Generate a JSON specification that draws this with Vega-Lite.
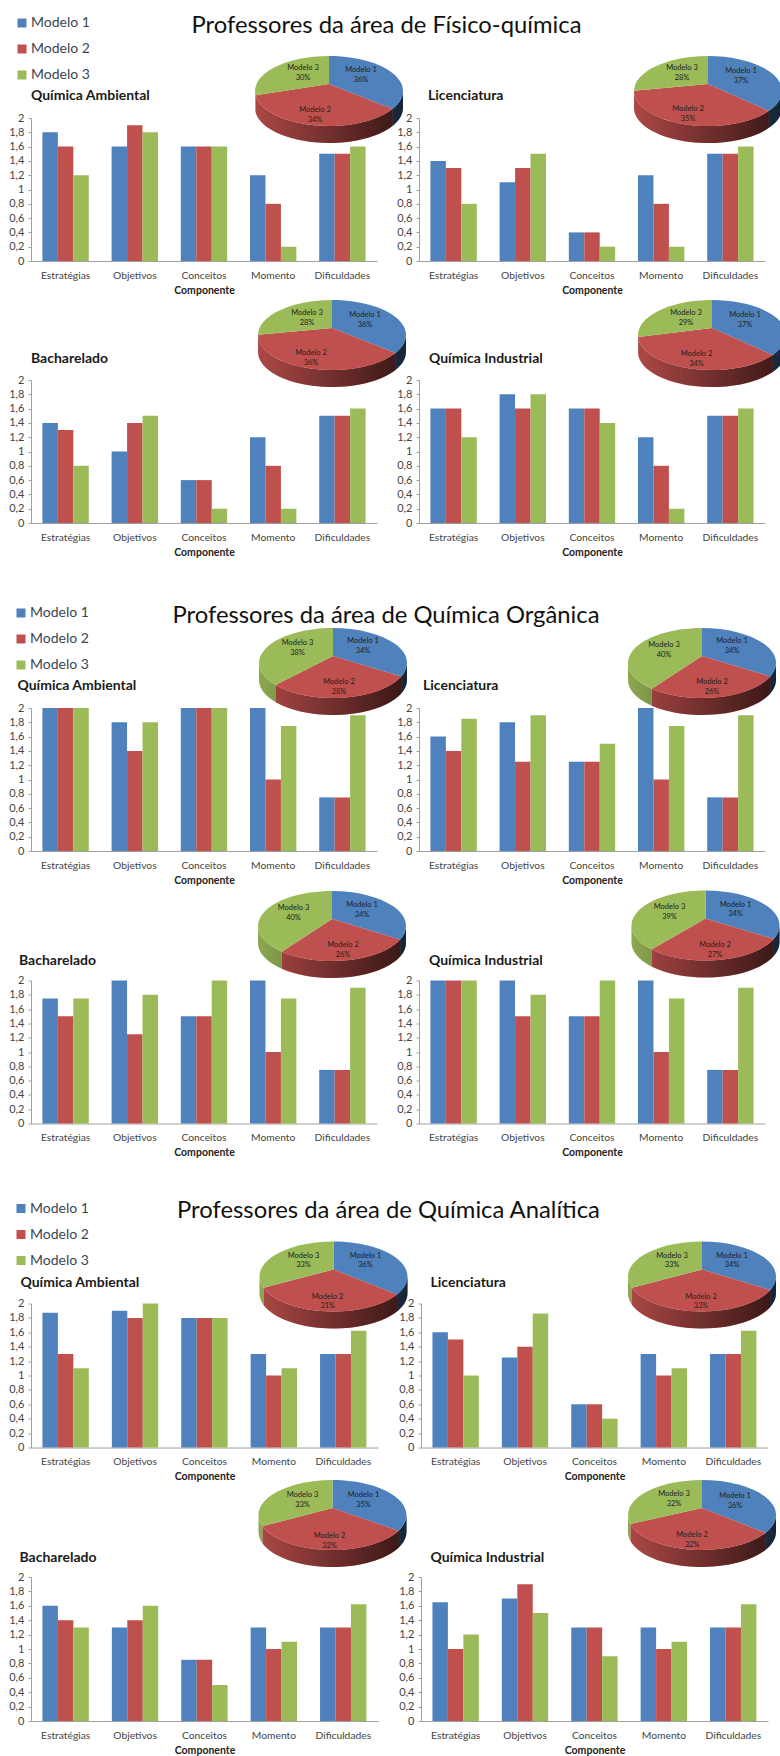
{"$schema":"https://vega.github.io/schema/vega-lite/v6.json","background":"white","padding":{"left":8,"top":14,"right":0,"bottom":0},
"config":{"view":{"stroke":null},"font":"Lato","range":{"category":["#4f81bd","#c0504d","#9bbb59"]},"scale":{"bandWithNestedOffsetPaddingInner":0.33,"bandWithNestedOffsetPaddingOuter":0.165},
"axis":{"grid":false,"domainColor":"#a0a0a0","tickColor":"#a0a0a0","labelColor":"#444444","labelFont":"Lato","titleFont":"Lato","titleColor":"#222222"},
"axisX":{"labelAngle":0,"ticks":false,"labelFontSize":10.3,"labelPadding":9,"titleFontSize":10.5,"titleFontWeight":"bold","titlePadding":5},"axisY":{"tickSize":3,"labelFontSize":11,"labelPadding":4},
"text":{"fontSize":7.5,"lineBreak":"\n","baseline":"bottom","align":"center","color":"#222222","font":"Lato"}},
"spacing":1185.5,"bounds":"flush","vconcat":[
{"spacing":590,"bounds":"flush","vconcat":[
{"spacing":262,"bounds":"flush","vconcat":[
{"spacing":42,"bounds":"flush","resolve":{"scale":{"color":"independent"}},"hconcat":[
{"width":346,"height":143,"resolve":{"scale":{"shape":"independent"}},"layer":[
{"data":{"values":[{"componente":"Estratégias","modelo":"Modelo 1","valor":1.8},{"componente":"Estratégias","modelo":"Modelo 2","valor":1.6},{"componente":"Estratégias","modelo":"Modelo 3","valor":1.2},{"componente":"Objetivos","modelo":"Modelo 1","valor":1.6},{"componente":"Objetivos","modelo":"Modelo 2","valor":1.9},{"componente":"Objetivos","modelo":"Modelo 3","valor":1.8},{"componente":"Conceitos","modelo":"Modelo 1","valor":1.6},{"componente":"Conceitos","modelo":"Modelo 2","valor":1.6},{"componente":"Conceitos","modelo":"Modelo 3","valor":1.6},{"componente":"Momento","modelo":"Modelo 1","valor":1.2},{"componente":"Momento","modelo":"Modelo 2","valor":0.8},{"componente":"Momento","modelo":"Modelo 3","valor":0.2},{"componente":"Dificuldades","modelo":"Modelo 1","valor":1.5},{"componente":"Dificuldades","modelo":"Modelo 2","valor":1.5},{"componente":"Dificuldades","modelo":"Modelo 3","valor":1.6}]},"mark":"bar","encoding":{"x":{"field":"componente","type":"nominal","sort":null,"title":"Componente"},"xOffset":{"field":"modelo"},"y":{"field":"valor","type":"quantitative","title":null,"scale":{"domain":[0,2]},"axis":{"tickCount":10,"labelExpr":"replace(format(datum.value,'~g'),'.',',')"}},"color":{"field":"modelo","type":"nominal","legend":{"orient":"none","legendX":-16,"legendY":-102,"title":null,"symbolType":"square","symbolSize":81,"labelFontSize":14,"labelColor":"#3b4656","rowPadding":12,"labelOffset":2,"symbolStrokeWidth":0}}}},
{"data":{"values":[{"modelo":"Modelo 1","pct":36},{"modelo":"Modelo 2","pct":34},{"modelo":"Modelo 3","pct":30}]},"mark":{"type":"point","filled":true,"opacity":1,"size":4,"strokeWidth":0,"xOffset":125,"yOffset":-98.5},"encoding":{"color":{"field":"modelo","type":"nominal","legend":null},"shape":{"field":"modelo","type":"nominal","legend":null,"scale":{"range":["M63.6,17.9A74,35 0 0 0 74,0L74,17A74,35 0 0 1 63.6,34.9Z","M-73.4,4.3A74,35 0 0 0 63.6,17.9L63.6,34.9A74,35 0 0 1 -73.4,21.3Z","M-74,0A74,35 0 0 0 -73.4,4.3L-73.4,21.3A74,35 0 0 1 -74,17Z"]}}}},
{"data":{"values":[{"parte":"lateral"}]},"mark":{"type":"point","filled":true,"opacity":1,"size":4,"strokeWidth":0,"xOffset":125,"yOffset":-98.5,"shape":"M-74,0A74,35 0 0 0 74,0L74,17A74,35 0 0 1 -74,17Z","fill":{"gradient":"linear","x1":0,"y1":0,"x2":1,"y2":0,"stops":[{"offset":0,"color":"rgba(0,0,0,0.1)"},{"offset":1,"color":"rgba(0,0,0,0.72)"}]}},"encoding":{}},
{"data":{"values":[{"modelo":"Modelo 1","pct":36},{"modelo":"Modelo 2","pct":34},{"modelo":"Modelo 3","pct":30}]},"mark":{"type":"point","filled":true,"opacity":1,"size":4,"strokeWidth":0,"xOffset":125,"yOffset":-98.5},"encoding":{"color":{"field":"modelo","type":"nominal","legend":null},"shape":{"field":"modelo","type":"nominal","legend":null,"scale":{"range":["M0,-7L0,-35A74,35 0 0 1 63.6,17.9Z","M0,-7L63.6,17.9A74,35 0 0 1 -73.4,4.3Z","M0,-7L-73.4,4.3A74,35 0 0 1 0,-35Z"]}}}},
{"data":{"values":[{"r":"Modelo 1\n36%"}]},"mark":{"type":"text","xOffset":157,"yOffset":-115.5},"encoding":{"text":{"field":"r"}}},
{"data":{"values":[{"r":"Modelo 2\n34%"}]},"mark":{"type":"text","xOffset":111,"yOffset":-75.5},"encoding":{"text":{"field":"r"}}},
{"data":{"values":[{"r":"Modelo 3\n30%"}]},"mark":{"type":"text","xOffset":99,"yOffset":-117.5},"encoding":{"text":{"field":"r"}}},
{"data":{"values":[{"t":"Química Ambiental"}]},"mark":{"type":"text","fontSize":14,"fontWeight":"bold","align":"left","baseline":"alphabetic","color":"#1a1a1a","xOffset":-173,"yOffset":-89.5},"encoding":{"text":{"field":"t"}}},
{"data":{"values":[{"t":"Professores da área de Físico-química"}]},"mark":{"type":"text","fontSize":23.8,"baseline":"alphabetic","color":"#111111","xOffset":182.5,"yOffset":-156.5},"encoding":{"text":{"field":"t"}}}
]},
{"width":346,"height":143,"resolve":{"scale":{"shape":"independent"}},"layer":[
{"data":{"values":[{"componente":"Estratégias","modelo":"Modelo 1","valor":1.4},{"componente":"Estratégias","modelo":"Modelo 2","valor":1.3},{"componente":"Estratégias","modelo":"Modelo 3","valor":0.8},{"componente":"Objetivos","modelo":"Modelo 1","valor":1.1},{"componente":"Objetivos","modelo":"Modelo 2","valor":1.3},{"componente":"Objetivos","modelo":"Modelo 3","valor":1.5},{"componente":"Conceitos","modelo":"Modelo 1","valor":0.4},{"componente":"Conceitos","modelo":"Modelo 2","valor":0.4},{"componente":"Conceitos","modelo":"Modelo 3","valor":0.2},{"componente":"Momento","modelo":"Modelo 1","valor":1.2},{"componente":"Momento","modelo":"Modelo 2","valor":0.8},{"componente":"Momento","modelo":"Modelo 3","valor":0.2},{"componente":"Dificuldades","modelo":"Modelo 1","valor":1.5},{"componente":"Dificuldades","modelo":"Modelo 2","valor":1.5},{"componente":"Dificuldades","modelo":"Modelo 3","valor":1.6}]},"mark":"bar","encoding":{"x":{"field":"componente","type":"nominal","sort":null,"title":"Componente"},"xOffset":{"field":"modelo"},"y":{"field":"valor","type":"quantitative","title":null,"scale":{"domain":[0,2]},"axis":{"tickCount":10,"labelExpr":"replace(format(datum.value,'~g'),'.',',')"}},"color":{"field":"modelo","type":"nominal","legend":null}}},
{"data":{"values":[{"modelo":"Modelo 1","pct":37},{"modelo":"Modelo 2","pct":35},{"modelo":"Modelo 3","pct":28}]},"mark":{"type":"point","filled":true,"opacity":1,"size":4,"strokeWidth":0,"xOffset":116,"yOffset":-98.5},"encoding":{"color":{"field":"modelo","type":"nominal","legend":null},"shape":{"field":"modelo","type":"nominal","legend":null,"scale":{"range":["M60.8,20A74,35 0 0 0 74,0L74,17A74,35 0 0 1 60.8,37Z","M-74,0A74,35 0 0 0 60.8,20L60.8,37A74,35 0 0 1 -74,17Z","M-74,0L-74,17Z"]}}}},
{"data":{"values":[{"parte":"lateral"}]},"mark":{"type":"point","filled":true,"opacity":1,"size":4,"strokeWidth":0,"xOffset":116,"yOffset":-98.5,"shape":"M-74,0A74,35 0 0 0 74,0L74,17A74,35 0 0 1 -74,17Z","fill":{"gradient":"linear","x1":0,"y1":0,"x2":1,"y2":0,"stops":[{"offset":0,"color":"rgba(0,0,0,0.1)"},{"offset":1,"color":"rgba(0,0,0,0.72)"}]}},"encoding":{}},
{"data":{"values":[{"modelo":"Modelo 1","pct":37},{"modelo":"Modelo 2","pct":35},{"modelo":"Modelo 3","pct":28}]},"mark":{"type":"point","filled":true,"opacity":1,"size":4,"strokeWidth":0,"xOffset":116,"yOffset":-98.5},"encoding":{"color":{"field":"modelo","type":"nominal","legend":null},"shape":{"field":"modelo","type":"nominal","legend":null,"scale":{"range":["M0,-7L0,-35A74,35 0 0 1 60.8,20Z","M0,-7L60.8,20A74,35 0 0 1 -74,-0.3Z","M0,-7L-74,-0.3A74,35 0 0 1 0,-35Z"]}}}},
{"data":{"values":[{"r":"Modelo 1\n37%"}]},"mark":{"type":"text","xOffset":149,"yOffset":-114.5},"encoding":{"text":{"field":"r"}}},
{"data":{"values":[{"r":"Modelo 2\n35%"}]},"mark":{"type":"text","xOffset":96,"yOffset":-76.5},"encoding":{"text":{"field":"r"}}},
{"data":{"values":[{"r":"Modelo 3\n28%"}]},"mark":{"type":"text","xOffset":90,"yOffset":-117.5},"encoding":{"text":{"field":"r"}}},
{"data":{"values":[{"t":"Licenciatura"}]},"mark":{"type":"text","fontSize":14,"fontWeight":"bold","align":"left","baseline":"alphabetic","color":"#1a1a1a","xOffset":-164,"yOffset":-89.5},"encoding":{"text":{"field":"t"}}}
]}
]},
{"spacing":42,"bounds":"flush","resolve":{"scale":{"color":"independent"}},"hconcat":[
{"width":346,"height":143,"resolve":{"scale":{"shape":"independent"}},"layer":[
{"data":{"values":[{"componente":"Estratégias","modelo":"Modelo 1","valor":1.4},{"componente":"Estratégias","modelo":"Modelo 2","valor":1.3},{"componente":"Estratégias","modelo":"Modelo 3","valor":0.8},{"componente":"Objetivos","modelo":"Modelo 1","valor":1},{"componente":"Objetivos","modelo":"Modelo 2","valor":1.4},{"componente":"Objetivos","modelo":"Modelo 3","valor":1.5},{"componente":"Conceitos","modelo":"Modelo 1","valor":0.6},{"componente":"Conceitos","modelo":"Modelo 2","valor":0.6},{"componente":"Conceitos","modelo":"Modelo 3","valor":0.2},{"componente":"Momento","modelo":"Modelo 1","valor":1.2},{"componente":"Momento","modelo":"Modelo 2","valor":0.8},{"componente":"Momento","modelo":"Modelo 3","valor":0.2},{"componente":"Dificuldades","modelo":"Modelo 1","valor":1.5},{"componente":"Dificuldades","modelo":"Modelo 2","valor":1.5},{"componente":"Dificuldades","modelo":"Modelo 3","valor":1.6}]},"mark":"bar","encoding":{"x":{"field":"componente","type":"nominal","sort":null,"title":"Componente"},"xOffset":{"field":"modelo"},"y":{"field":"valor","type":"quantitative","title":null,"scale":{"domain":[0,2]},"axis":{"tickCount":10,"labelExpr":"replace(format(datum.value,'~g'),'.',',')"}},"color":{"field":"modelo","type":"nominal","legend":null}}},
{"data":{"values":[{"modelo":"Modelo 1","pct":36},{"modelo":"Modelo 2","pct":36},{"modelo":"Modelo 3","pct":28}]},"mark":{"type":"point","filled":true,"opacity":1,"size":4,"strokeWidth":0,"xOffset":128,"yOffset":-116.5},"encoding":{"color":{"field":"modelo","type":"nominal","legend":null},"shape":{"field":"modelo","type":"nominal","legend":null,"scale":{"range":["M63.6,17.9A74,35 0 0 0 74,0L74,17A74,35 0 0 1 63.6,34.9Z","M-74,0A74,35 0 0 0 63.6,17.9L63.6,34.9A74,35 0 0 1 -74,17Z","M-74,0L-74,17Z"]}}}},
{"data":{"values":[{"parte":"lateral"}]},"mark":{"type":"point","filled":true,"opacity":1,"size":4,"strokeWidth":0,"xOffset":128,"yOffset":-116.5,"shape":"M-74,0A74,35 0 0 0 74,0L74,17A74,35 0 0 1 -74,17Z","fill":{"gradient":"linear","x1":0,"y1":0,"x2":1,"y2":0,"stops":[{"offset":0,"color":"rgba(0,0,0,0.1)"},{"offset":1,"color":"rgba(0,0,0,0.72)"}]}},"encoding":{}},
{"data":{"values":[{"modelo":"Modelo 1","pct":36},{"modelo":"Modelo 2","pct":36},{"modelo":"Modelo 3","pct":28}]},"mark":{"type":"point","filled":true,"opacity":1,"size":4,"strokeWidth":0,"xOffset":128,"yOffset":-116.5},"encoding":{"color":{"field":"modelo","type":"nominal","legend":null},"shape":{"field":"modelo","type":"nominal","legend":null,"scale":{"range":["M0,-7L0,-35A74,35 0 0 1 63.6,17.9Z","M0,-7L63.6,17.9A74,35 0 0 1 -74,-0.3Z","M0,-7L-74,-0.3A74,35 0 0 1 0,-35Z"]}}}},
{"data":{"values":[{"r":"Modelo 1\n36%"}]},"mark":{"type":"text","xOffset":161,"yOffset":-132.5},"encoding":{"text":{"field":"r"}}},
{"data":{"values":[{"r":"Modelo 2\n36%"}]},"mark":{"type":"text","xOffset":107,"yOffset":-94.5},"encoding":{"text":{"field":"r"}}},
{"data":{"values":[{"r":"Modelo 3\n28%"}]},"mark":{"type":"text","xOffset":103,"yOffset":-134.5},"encoding":{"text":{"field":"r"}}},
{"data":{"values":[{"t":"Bacharelado"}]},"mark":{"type":"text","fontSize":14,"fontWeight":"bold","align":"left","baseline":"alphabetic","color":"#1a1a1a","xOffset":-173,"yOffset":-88.5},"encoding":{"text":{"field":"t"}}}
]},
{"width":346,"height":143,"resolve":{"scale":{"shape":"independent"}},"layer":[
{"data":{"values":[{"componente":"Estratégias","modelo":"Modelo 1","valor":1.6},{"componente":"Estratégias","modelo":"Modelo 2","valor":1.6},{"componente":"Estratégias","modelo":"Modelo 3","valor":1.2},{"componente":"Objetivos","modelo":"Modelo 1","valor":1.8},{"componente":"Objetivos","modelo":"Modelo 2","valor":1.6},{"componente":"Objetivos","modelo":"Modelo 3","valor":1.8},{"componente":"Conceitos","modelo":"Modelo 1","valor":1.6},{"componente":"Conceitos","modelo":"Modelo 2","valor":1.6},{"componente":"Conceitos","modelo":"Modelo 3","valor":1.4},{"componente":"Momento","modelo":"Modelo 1","valor":1.2},{"componente":"Momento","modelo":"Modelo 2","valor":0.8},{"componente":"Momento","modelo":"Modelo 3","valor":0.2},{"componente":"Dificuldades","modelo":"Modelo 1","valor":1.5},{"componente":"Dificuldades","modelo":"Modelo 2","valor":1.5},{"componente":"Dificuldades","modelo":"Modelo 3","valor":1.6}]},"mark":"bar","encoding":{"x":{"field":"componente","type":"nominal","sort":null,"title":"Componente"},"xOffset":{"field":"modelo"},"y":{"field":"valor","type":"quantitative","title":null,"scale":{"domain":[0,2]},"axis":{"tickCount":10,"labelExpr":"replace(format(datum.value,'~g'),'.',',')"}},"color":{"field":"modelo","type":"nominal","legend":null}}},
{"data":{"values":[{"modelo":"Modelo 1","pct":37},{"modelo":"Modelo 2","pct":34},{"modelo":"Modelo 3","pct":29}]},"mark":{"type":"point","filled":true,"opacity":1,"size":4,"strokeWidth":0,"xOffset":120,"yOffset":-116.5},"encoding":{"color":{"field":"modelo","type":"nominal","legend":null},"shape":{"field":"modelo","type":"nominal","legend":null,"scale":{"range":["M60.8,20A74,35 0 0 0 74,0L74,17A74,35 0 0 1 60.8,37Z","M-73.9,2A74,35 0 0 0 60.8,20L60.8,37A74,35 0 0 1 -73.9,19Z","M-74,0A74,35 0 0 0 -73.9,2L-73.9,19A74,35 0 0 1 -74,17Z"]}}}},
{"data":{"values":[{"parte":"lateral"}]},"mark":{"type":"point","filled":true,"opacity":1,"size":4,"strokeWidth":0,"xOffset":120,"yOffset":-116.5,"shape":"M-74,0A74,35 0 0 0 74,0L74,17A74,35 0 0 1 -74,17Z","fill":{"gradient":"linear","x1":0,"y1":0,"x2":1,"y2":0,"stops":[{"offset":0,"color":"rgba(0,0,0,0.1)"},{"offset":1,"color":"rgba(0,0,0,0.72)"}]}},"encoding":{}},
{"data":{"values":[{"modelo":"Modelo 1","pct":37},{"modelo":"Modelo 2","pct":34},{"modelo":"Modelo 3","pct":29}]},"mark":{"type":"point","filled":true,"opacity":1,"size":4,"strokeWidth":0,"xOffset":120,"yOffset":-116.5},"encoding":{"color":{"field":"modelo","type":"nominal","legend":null},"shape":{"field":"modelo","type":"nominal","legend":null,"scale":{"range":["M0,-7L0,-35A74,35 0 0 1 60.8,20Z","M0,-7L60.8,20A74,35 0 0 1 -73.9,2Z","M0,-7L-73.9,2A74,35 0 0 1 0,-35Z"]}}}},
{"data":{"values":[{"r":"Modelo 1\n37%"}]},"mark":{"type":"text","xOffset":153,"yOffset":-132.5},"encoding":{"text":{"field":"r"}}},
{"data":{"values":[{"r":"Modelo 2\n34%"}]},"mark":{"type":"text","xOffset":104.5,"yOffset":-93.5},"encoding":{"text":{"field":"r"}}},
{"data":{"values":[{"r":"Modelo 3\n29%"}]},"mark":{"type":"text","xOffset":94,"yOffset":-134.5},"encoding":{"text":{"field":"r"}}},
{"data":{"values":[{"t":"Química Industrial"}]},"mark":{"type":"text","fontSize":14,"fontWeight":"bold","align":"left","baseline":"alphabetic","color":"#1a1a1a","xOffset":-163,"yOffset":-88.5},"encoding":{"text":{"field":"t"}}}
]}
]}
]},
{"spacing":272.5,"bounds":"flush","vconcat":[
{"spacing":42,"bounds":"flush","resolve":{"scale":{"color":"independent"}},"hconcat":[
{"width":346,"height":143,"resolve":{"scale":{"shape":"independent"}},"layer":[
{"data":{"values":[{"componente":"Estratégias","modelo":"Modelo 1","valor":2},{"componente":"Estratégias","modelo":"Modelo 2","valor":2},{"componente":"Estratégias","modelo":"Modelo 3","valor":2},{"componente":"Objetivos","modelo":"Modelo 1","valor":1.8},{"componente":"Objetivos","modelo":"Modelo 2","valor":1.4},{"componente":"Objetivos","modelo":"Modelo 3","valor":1.8},{"componente":"Conceitos","modelo":"Modelo 1","valor":2},{"componente":"Conceitos","modelo":"Modelo 2","valor":2},{"componente":"Conceitos","modelo":"Modelo 3","valor":2},{"componente":"Momento","modelo":"Modelo 1","valor":2},{"componente":"Momento","modelo":"Modelo 2","valor":1},{"componente":"Momento","modelo":"Modelo 3","valor":1.75},{"componente":"Dificuldades","modelo":"Modelo 1","valor":0.75},{"componente":"Dificuldades","modelo":"Modelo 2","valor":0.75},{"componente":"Dificuldades","modelo":"Modelo 3","valor":1.9}]},"mark":"bar","encoding":{"x":{"field":"componente","type":"nominal","sort":null,"title":"Componente"},"xOffset":{"field":"modelo"},"y":{"field":"valor","type":"quantitative","title":null,"scale":{"domain":[0,2]},"axis":{"tickCount":10,"labelExpr":"replace(format(datum.value,'~g'),'.',',')"}},"color":{"field":"modelo","type":"nominal","legend":{"orient":"none","legendX":-17,"legendY":-102,"title":null,"symbolType":"square","symbolSize":81,"labelFontSize":14,"labelColor":"#3b4656","rowPadding":12,"labelOffset":2,"symbolStrokeWidth":0}}}},
{"data":{"values":[{"modelo":"Modelo 1","pct":34},{"modelo":"Modelo 2","pct":28},{"modelo":"Modelo 3","pct":38}]},"mark":{"type":"point","filled":true,"opacity":1,"size":4,"strokeWidth":0,"xOffset":129,"yOffset":-116.5},"encoding":{"color":{"field":"modelo","type":"nominal","legend":null},"shape":{"field":"modelo","type":"nominal","legend":null,"scale":{"range":["M68.3,13.5A74,35 0 0 0 74,0L74,17A74,35 0 0 1 68.3,30.5Z","M-57.6,22A74,35 0 0 0 68.3,13.5L68.3,30.5A74,35 0 0 1 -57.6,39Z","M-74,0A74,35 0 0 0 -57.6,22L-57.6,39A74,35 0 0 1 -74,17Z"]}}}},
{"data":{"values":[{"parte":"lateral"}]},"mark":{"type":"point","filled":true,"opacity":1,"size":4,"strokeWidth":0,"xOffset":129,"yOffset":-116.5,"shape":"M-74,0A74,35 0 0 0 74,0L74,17A74,35 0 0 1 -74,17Z","fill":{"gradient":"linear","x1":0,"y1":0,"x2":1,"y2":0,"stops":[{"offset":0,"color":"rgba(0,0,0,0.1)"},{"offset":1,"color":"rgba(0,0,0,0.72)"}]}},"encoding":{}},
{"data":{"values":[{"modelo":"Modelo 1","pct":34},{"modelo":"Modelo 2","pct":28},{"modelo":"Modelo 3","pct":38}]},"mark":{"type":"point","filled":true,"opacity":1,"size":4,"strokeWidth":0,"xOffset":129,"yOffset":-116.5},"encoding":{"color":{"field":"modelo","type":"nominal","legend":null},"shape":{"field":"modelo","type":"nominal","legend":null,"scale":{"range":["M0,-7L0,-35A74,35 0 0 1 68.3,13.5Z","M0,-7L68.3,13.5A74,35 0 0 1 -57.6,22Z","M0,-7L-57.6,22A74,35 0 0 1 0,-35Z"]}}}},
{"data":{"values":[{"r":"Modelo 1\n34%"}]},"mark":{"type":"text","xOffset":159,"yOffset":-134.5},"encoding":{"text":{"field":"r"}}},
{"data":{"values":[{"r":"Modelo 2\n28%"}]},"mark":{"type":"text","xOffset":135,"yOffset":-93.5},"encoding":{"text":{"field":"r"}}},
{"data":{"values":[{"r":"Modelo 3\n38%"}]},"mark":{"type":"text","xOffset":93.5,"yOffset":-132.5},"encoding":{"text":{"field":"r"}}},
{"data":{"values":[{"t":"Química Ambiental"}]},"mark":{"type":"text","fontSize":14,"fontWeight":"bold","align":"left","baseline":"alphabetic","color":"#1a1a1a","xOffset":-186.5,"yOffset":-89.5},"encoding":{"text":{"field":"t"}}},
{"data":{"values":[{"t":"Professores da área de Química Orgânica"}]},"mark":{"type":"text","fontSize":23.8,"baseline":"alphabetic","color":"#111111","xOffset":182,"yOffset":-156.5},"encoding":{"text":{"field":"t"}}}
]},
{"width":346,"height":143,"resolve":{"scale":{"shape":"independent"}},"layer":[
{"data":{"values":[{"componente":"Estratégias","modelo":"Modelo 1","valor":1.6},{"componente":"Estratégias","modelo":"Modelo 2","valor":1.4},{"componente":"Estratégias","modelo":"Modelo 3","valor":1.85},{"componente":"Objetivos","modelo":"Modelo 1","valor":1.8},{"componente":"Objetivos","modelo":"Modelo 2","valor":1.25},{"componente":"Objetivos","modelo":"Modelo 3","valor":1.9},{"componente":"Conceitos","modelo":"Modelo 1","valor":1.25},{"componente":"Conceitos","modelo":"Modelo 2","valor":1.25},{"componente":"Conceitos","modelo":"Modelo 3","valor":1.5},{"componente":"Momento","modelo":"Modelo 1","valor":2},{"componente":"Momento","modelo":"Modelo 2","valor":1},{"componente":"Momento","modelo":"Modelo 3","valor":1.75},{"componente":"Dificuldades","modelo":"Modelo 1","valor":0.75},{"componente":"Dificuldades","modelo":"Modelo 2","valor":0.75},{"componente":"Dificuldades","modelo":"Modelo 3","valor":1.9}]},"mark":"bar","encoding":{"x":{"field":"componente","type":"nominal","sort":null,"title":"Componente"},"xOffset":{"field":"modelo"},"y":{"field":"valor","type":"quantitative","title":null,"scale":{"domain":[0,2]},"axis":{"tickCount":10,"labelExpr":"replace(format(datum.value,'~g'),'.',',')"}},"color":{"field":"modelo","type":"nominal","legend":null}}},
{"data":{"values":[{"modelo":"Modelo 1","pct":34},{"modelo":"Modelo 2","pct":26},{"modelo":"Modelo 3","pct":40}]},"mark":{"type":"point","filled":true,"opacity":1,"size":4,"strokeWidth":0,"xOffset":110,"yOffset":-116.5},"encoding":{"color":{"field":"modelo","type":"nominal","legend":null},"shape":{"field":"modelo","type":"nominal","legend":null,"scale":{"range":["M68.3,13.5A74,35 0 0 0 74,0L74,17A74,35 0 0 1 68.3,30.5Z","M-50.2,25.7A74,35 0 0 0 68.3,13.5L68.3,30.5A74,35 0 0 1 -50.2,42.7Z","M-74,0A74,35 0 0 0 -50.2,25.7L-50.2,42.7A74,35 0 0 1 -74,17Z"]}}}},
{"data":{"values":[{"parte":"lateral"}]},"mark":{"type":"point","filled":true,"opacity":1,"size":4,"strokeWidth":0,"xOffset":110,"yOffset":-116.5,"shape":"M-74,0A74,35 0 0 0 74,0L74,17A74,35 0 0 1 -74,17Z","fill":{"gradient":"linear","x1":0,"y1":0,"x2":1,"y2":0,"stops":[{"offset":0,"color":"rgba(0,0,0,0.1)"},{"offset":1,"color":"rgba(0,0,0,0.72)"}]}},"encoding":{}},
{"data":{"values":[{"modelo":"Modelo 1","pct":34},{"modelo":"Modelo 2","pct":26},{"modelo":"Modelo 3","pct":40}]},"mark":{"type":"point","filled":true,"opacity":1,"size":4,"strokeWidth":0,"xOffset":110,"yOffset":-116.5},"encoding":{"color":{"field":"modelo","type":"nominal","legend":null},"shape":{"field":"modelo","type":"nominal","legend":null,"scale":{"range":["M0,-7L0,-35A74,35 0 0 1 68.3,13.5Z","M0,-7L68.3,13.5A74,35 0 0 1 -50.2,25.7Z","M0,-7L-50.2,25.7A74,35 0 0 1 0,-35Z"]}}}},
{"data":{"values":[{"r":"Modelo 1\n34%"}]},"mark":{"type":"text","xOffset":140,"yOffset":-134.5},"encoding":{"text":{"field":"r"}}},
{"data":{"values":[{"r":"Modelo 2\n26%"}]},"mark":{"type":"text","xOffset":120,"yOffset":-93.5},"encoding":{"text":{"field":"r"}}},
{"data":{"values":[{"r":"Modelo 3\n40%"}]},"mark":{"type":"text","xOffset":72,"yOffset":-130.5},"encoding":{"text":{"field":"r"}}},
{"data":{"values":[{"t":"Licenciatura"}]},"mark":{"type":"text","fontSize":14,"fontWeight":"bold","align":"left","baseline":"alphabetic","color":"#1a1a1a","xOffset":-169,"yOffset":-89.5},"encoding":{"text":{"field":"t"}}}
]}
]},
{"spacing":42,"bounds":"flush","resolve":{"scale":{"color":"independent"}},"hconcat":[
{"width":346,"height":143,"resolve":{"scale":{"shape":"independent"}},"layer":[
{"data":{"values":[{"componente":"Estratégias","modelo":"Modelo 1","valor":1.75},{"componente":"Estratégias","modelo":"Modelo 2","valor":1.5},{"componente":"Estratégias","modelo":"Modelo 3","valor":1.75},{"componente":"Objetivos","modelo":"Modelo 1","valor":2},{"componente":"Objetivos","modelo":"Modelo 2","valor":1.25},{"componente":"Objetivos","modelo":"Modelo 3","valor":1.8},{"componente":"Conceitos","modelo":"Modelo 1","valor":1.5},{"componente":"Conceitos","modelo":"Modelo 2","valor":1.5},{"componente":"Conceitos","modelo":"Modelo 3","valor":2},{"componente":"Momento","modelo":"Modelo 1","valor":2},{"componente":"Momento","modelo":"Modelo 2","valor":1},{"componente":"Momento","modelo":"Modelo 3","valor":1.75},{"componente":"Dificuldades","modelo":"Modelo 1","valor":0.75},{"componente":"Dificuldades","modelo":"Modelo 2","valor":0.75},{"componente":"Dificuldades","modelo":"Modelo 3","valor":1.9}]},"mark":"bar","encoding":{"x":{"field":"componente","type":"nominal","sort":null,"title":"Componente"},"xOffset":{"field":"modelo"},"y":{"field":"valor","type":"quantitative","title":null,"scale":{"domain":[0,2]},"axis":{"tickCount":10,"labelExpr":"replace(format(datum.value,'~g'),'.',',')"}},"color":{"field":"modelo","type":"nominal","legend":null}}},
{"data":{"values":[{"modelo":"Modelo 1","pct":34},{"modelo":"Modelo 2","pct":26},{"modelo":"Modelo 3","pct":40}]},"mark":{"type":"point","filled":true,"opacity":1,"size":4,"strokeWidth":0,"xOffset":128,"yOffset":-126},"encoding":{"color":{"field":"modelo","type":"nominal","legend":null},"shape":{"field":"modelo","type":"nominal","legend":null,"scale":{"range":["M68.3,13.5A74,35 0 0 0 74,0L74,17A74,35 0 0 1 68.3,30.5Z","M-50.2,25.7A74,35 0 0 0 68.3,13.5L68.3,30.5A74,35 0 0 1 -50.2,42.7Z","M-74,0A74,35 0 0 0 -50.2,25.7L-50.2,42.7A74,35 0 0 1 -74,17Z"]}}}},
{"data":{"values":[{"parte":"lateral"}]},"mark":{"type":"point","filled":true,"opacity":1,"size":4,"strokeWidth":0,"xOffset":128,"yOffset":-126,"shape":"M-74,0A74,35 0 0 0 74,0L74,17A74,35 0 0 1 -74,17Z","fill":{"gradient":"linear","x1":0,"y1":0,"x2":1,"y2":0,"stops":[{"offset":0,"color":"rgba(0,0,0,0.1)"},{"offset":1,"color":"rgba(0,0,0,0.72)"}]}},"encoding":{}},
{"data":{"values":[{"modelo":"Modelo 1","pct":34},{"modelo":"Modelo 2","pct":26},{"modelo":"Modelo 3","pct":40}]},"mark":{"type":"point","filled":true,"opacity":1,"size":4,"strokeWidth":0,"xOffset":128,"yOffset":-126},"encoding":{"color":{"field":"modelo","type":"nominal","legend":null},"shape":{"field":"modelo","type":"nominal","legend":null,"scale":{"range":["M0,-7L0,-35A74,35 0 0 1 68.3,13.5Z","M0,-7L68.3,13.5A74,35 0 0 1 -50.2,25.7Z","M0,-7L-50.2,25.7A74,35 0 0 1 0,-35Z"]}}}},
{"data":{"values":[{"r":"Modelo 1\n34%"}]},"mark":{"type":"text","xOffset":158,"yOffset":-143},"encoding":{"text":{"field":"r"}}},
{"data":{"values":[{"r":"Modelo 2\n26%"}]},"mark":{"type":"text","xOffset":139,"yOffset":-103},"encoding":{"text":{"field":"r"}}},
{"data":{"values":[{"r":"Modelo 3\n40%"}]},"mark":{"type":"text","xOffset":89.5,"yOffset":-140},"encoding":{"text":{"field":"r"}}},
{"data":{"values":[{"t":"Bacharelado"}]},"mark":{"type":"text","fontSize":14,"fontWeight":"bold","align":"left","baseline":"alphabetic","color":"#1a1a1a","xOffset":-185,"yOffset":-87},"encoding":{"text":{"field":"t"}}}
]},
{"width":346,"height":143,"resolve":{"scale":{"shape":"independent"}},"layer":[
{"data":{"values":[{"componente":"Estratégias","modelo":"Modelo 1","valor":2},{"componente":"Estratégias","modelo":"Modelo 2","valor":2},{"componente":"Estratégias","modelo":"Modelo 3","valor":2},{"componente":"Objetivos","modelo":"Modelo 1","valor":2},{"componente":"Objetivos","modelo":"Modelo 2","valor":1.5},{"componente":"Objetivos","modelo":"Modelo 3","valor":1.8},{"componente":"Conceitos","modelo":"Modelo 1","valor":1.5},{"componente":"Conceitos","modelo":"Modelo 2","valor":1.5},{"componente":"Conceitos","modelo":"Modelo 3","valor":2},{"componente":"Momento","modelo":"Modelo 1","valor":2},{"componente":"Momento","modelo":"Modelo 2","valor":1},{"componente":"Momento","modelo":"Modelo 3","valor":1.75},{"componente":"Dificuldades","modelo":"Modelo 1","valor":0.75},{"componente":"Dificuldades","modelo":"Modelo 2","valor":0.75},{"componente":"Dificuldades","modelo":"Modelo 3","valor":1.9}]},"mark":"bar","encoding":{"x":{"field":"componente","type":"nominal","sort":null,"title":"Componente"},"xOffset":{"field":"modelo"},"y":{"field":"valor","type":"quantitative","title":null,"scale":{"domain":[0,2]},"axis":{"tickCount":10,"labelExpr":"replace(format(datum.value,'~g'),'.',',')"}},"color":{"field":"modelo","type":"nominal","legend":null}}},
{"data":{"values":[{"modelo":"Modelo 1","pct":34},{"modelo":"Modelo 2","pct":27},{"modelo":"Modelo 3","pct":39}]},"mark":{"type":"point","filled":true,"opacity":1,"size":4,"strokeWidth":0,"xOffset":113.5,"yOffset":-126.5},"encoding":{"color":{"field":"modelo","type":"nominal","legend":null},"shape":{"field":"modelo","type":"nominal","legend":null,"scale":{"range":["M68.3,13.5A74,35 0 0 0 74,0L74,17A74,35 0 0 1 68.3,30.5Z","M-54,23.9A74,35 0 0 0 68.3,13.5L68.3,30.5A74,35 0 0 1 -54,40.9Z","M-74,0A74,35 0 0 0 -54,23.9L-54,40.9A74,35 0 0 1 -74,17Z"]}}}},
{"data":{"values":[{"parte":"lateral"}]},"mark":{"type":"point","filled":true,"opacity":1,"size":4,"strokeWidth":0,"xOffset":113.5,"yOffset":-126.5,"shape":"M-74,0A74,35 0 0 0 74,0L74,17A74,35 0 0 1 -74,17Z","fill":{"gradient":"linear","x1":0,"y1":0,"x2":1,"y2":0,"stops":[{"offset":0,"color":"rgba(0,0,0,0.1)"},{"offset":1,"color":"rgba(0,0,0,0.72)"}]}},"encoding":{}},
{"data":{"values":[{"modelo":"Modelo 1","pct":34},{"modelo":"Modelo 2","pct":27},{"modelo":"Modelo 3","pct":39}]},"mark":{"type":"point","filled":true,"opacity":1,"size":4,"strokeWidth":0,"xOffset":113.5,"yOffset":-126.5},"encoding":{"color":{"field":"modelo","type":"nominal","legend":null},"shape":{"field":"modelo","type":"nominal","legend":null,"scale":{"range":["M0,-7L0,-35A74,35 0 0 1 68.3,13.5Z","M0,-7L68.3,13.5A74,35 0 0 1 -54,23.9Z","M0,-7L-54,23.9A74,35 0 0 1 0,-35Z"]}}}},
{"data":{"values":[{"r":"Modelo 1\n34%"}]},"mark":{"type":"text","xOffset":143.5,"yOffset":-143.5},"encoding":{"text":{"field":"r"}}},
{"data":{"values":[{"r":"Modelo 2\n27%"}]},"mark":{"type":"text","xOffset":123,"yOffset":-103},"encoding":{"text":{"field":"r"}}},
{"data":{"values":[{"r":"Modelo 3\n39%"}]},"mark":{"type":"text","xOffset":77.5,"yOffset":-141},"encoding":{"text":{"field":"r"}}},
{"data":{"values":[{"t":"Química Industrial"}]},"mark":{"type":"text","fontSize":14,"fontWeight":"bold","align":"left","baseline":"alphabetic","color":"#1a1a1a","xOffset":-163,"yOffset":-87},"encoding":{"text":{"field":"t"}}}
]}
]}
]}
]},
{"spacing":273.5,"bounds":"flush","vconcat":[
{"spacing":43,"bounds":"flush","resolve":{"scale":{"color":"independent"}},"hconcat":[
{"width":347,"height":144,"resolve":{"scale":{"shape":"independent"}},"layer":[
{"data":{"values":[{"componente":"Estratégias","modelo":"Modelo 1","valor":1.87},{"componente":"Estratégias","modelo":"Modelo 2","valor":1.3},{"componente":"Estratégias","modelo":"Modelo 3","valor":1.1},{"componente":"Objetivos","modelo":"Modelo 1","valor":1.9},{"componente":"Objetivos","modelo":"Modelo 2","valor":1.8},{"componente":"Objetivos","modelo":"Modelo 3","valor":2},{"componente":"Conceitos","modelo":"Modelo 1","valor":1.8},{"componente":"Conceitos","modelo":"Modelo 2","valor":1.8},{"componente":"Conceitos","modelo":"Modelo 3","valor":1.8},{"componente":"Momento","modelo":"Modelo 1","valor":1.3},{"componente":"Momento","modelo":"Modelo 2","valor":1},{"componente":"Momento","modelo":"Modelo 3","valor":1.1},{"componente":"Dificuldades","modelo":"Modelo 1","valor":1.3},{"componente":"Dificuldades","modelo":"Modelo 2","valor":1.3},{"componente":"Dificuldades","modelo":"Modelo 3","valor":1.62}]},"mark":"bar","encoding":{"x":{"field":"componente","type":"nominal","sort":null,"title":"Componente"},"xOffset":{"field":"modelo"},"y":{"field":"valor","type":"quantitative","title":null,"scale":{"domain":[0,2]},"axis":{"tickCount":10,"labelExpr":"replace(format(datum.value,'~g'),'.',',')"}},"color":{"field":"modelo","type":"nominal","legend":{"orient":"none","legendX":-17,"legendY":-102,"title":null,"symbolType":"square","symbolSize":81,"labelFontSize":14,"labelColor":"#3b4656","rowPadding":12,"labelOffset":2,"symbolStrokeWidth":0}}}},
{"data":{"values":[{"modelo":"Modelo 1","pct":36},{"modelo":"Modelo 2","pct":31},{"modelo":"Modelo 3","pct":33}]},"mark":{"type":"point","filled":true,"opacity":1,"size":4,"strokeWidth":0,"xOffset":129,"yOffset":-99},"encoding":{"color":{"field":"modelo","type":"nominal","legend":null},"shape":{"field":"modelo","type":"nominal","legend":null,"scale":{"range":["M63.6,17.9A74,35 0 0 0 74,0L74,17A74,35 0 0 1 63.6,34.9Z","M-70.1,11.2A74,35 0 0 0 63.6,17.9L63.6,34.9A74,35 0 0 1 -70.1,28.2Z","M-74,0A74,35 0 0 0 -70.1,11.2L-70.1,28.2A74,35 0 0 1 -74,17Z"]}}}},
{"data":{"values":[{"parte":"lateral"}]},"mark":{"type":"point","filled":true,"opacity":1,"size":4,"strokeWidth":0,"xOffset":129,"yOffset":-99,"shape":"M-74,0A74,35 0 0 0 74,0L74,17A74,35 0 0 1 -74,17Z","fill":{"gradient":"linear","x1":0,"y1":0,"x2":1,"y2":0,"stops":[{"offset":0,"color":"rgba(0,0,0,0.1)"},{"offset":1,"color":"rgba(0,0,0,0.72)"}]}},"encoding":{}},
{"data":{"values":[{"modelo":"Modelo 1","pct":36},{"modelo":"Modelo 2","pct":31},{"modelo":"Modelo 3","pct":33}]},"mark":{"type":"point","filled":true,"opacity":1,"size":4,"strokeWidth":0,"xOffset":129,"yOffset":-99},"encoding":{"color":{"field":"modelo","type":"nominal","legend":null},"shape":{"field":"modelo","type":"nominal","legend":null,"scale":{"range":["M0,-7L0,-35A74,35 0 0 1 63.6,17.9Z","M0,-7L63.6,17.9A74,35 0 0 1 -70.1,11.2Z","M0,-7L-70.1,11.2A74,35 0 0 1 0,-35Z"]}}}},
{"data":{"values":[{"r":"Modelo 1\n36%"}]},"mark":{"type":"text","xOffset":161,"yOffset":-116},"encoding":{"text":{"field":"r"}}},
{"data":{"values":[{"r":"Modelo 2\n31%"}]},"mark":{"type":"text","xOffset":123,"yOffset":-75},"encoding":{"text":{"field":"r"}}},
{"data":{"values":[{"r":"Modelo 3\n33%"}]},"mark":{"type":"text","xOffset":99,"yOffset":-116},"encoding":{"text":{"field":"r"}}},
{"data":{"values":[{"t":"Química Ambiental"}]},"mark":{"type":"text","fontSize":14,"fontWeight":"bold","align":"left","baseline":"alphabetic","color":"#1a1a1a","xOffset":-184,"yOffset":-88.5},"encoding":{"text":{"field":"t"}}},
{"data":{"values":[{"t":"Professores da área de Química Analítica"}]},"mark":{"type":"text","fontSize":23.8,"baseline":"alphabetic","color":"#111111","xOffset":184,"yOffset":-157.5},"encoding":{"text":{"field":"t"}}}
]},
{"width":347,"height":144,"resolve":{"scale":{"shape":"independent"}},"layer":[
{"data":{"values":[{"componente":"Estratégias","modelo":"Modelo 1","valor":1.6},{"componente":"Estratégias","modelo":"Modelo 2","valor":1.5},{"componente":"Estratégias","modelo":"Modelo 3","valor":1},{"componente":"Objetivos","modelo":"Modelo 1","valor":1.25},{"componente":"Objetivos","modelo":"Modelo 2","valor":1.4},{"componente":"Objetivos","modelo":"Modelo 3","valor":1.86},{"componente":"Conceitos","modelo":"Modelo 1","valor":0.6},{"componente":"Conceitos","modelo":"Modelo 2","valor":0.6},{"componente":"Conceitos","modelo":"Modelo 3","valor":0.4},{"componente":"Momento","modelo":"Modelo 1","valor":1.3},{"componente":"Momento","modelo":"Modelo 2","valor":1},{"componente":"Momento","modelo":"Modelo 3","valor":1.1},{"componente":"Dificuldades","modelo":"Modelo 1","valor":1.3},{"componente":"Dificuldades","modelo":"Modelo 2","valor":1.3},{"componente":"Dificuldades","modelo":"Modelo 3","valor":1.62}]},"mark":"bar","encoding":{"x":{"field":"componente","type":"nominal","sort":null,"title":"Componente"},"xOffset":{"field":"modelo"},"y":{"field":"valor","type":"quantitative","title":null,"scale":{"domain":[0,2]},"axis":{"tickCount":10,"labelExpr":"replace(format(datum.value,'~g'),'.',',')"}},"color":{"field":"modelo","type":"nominal","legend":null}}},
{"data":{"values":[{"modelo":"Modelo 1","pct":34},{"modelo":"Modelo 2","pct":33},{"modelo":"Modelo 3","pct":33}]},"mark":{"type":"point","filled":true,"opacity":1,"size":4,"strokeWidth":0,"xOffset":107.5,"yOffset":-99},"encoding":{"color":{"field":"modelo","type":"nominal","legend":null},"shape":{"field":"modelo","type":"nominal","legend":null,"scale":{"range":["M68.3,13.5A74,35 0 0 0 74,0L74,17A74,35 0 0 1 68.3,30.5Z","M-70.1,11.2A74,35 0 0 0 68.3,13.5L68.3,30.5A74,35 0 0 1 -70.1,28.2Z","M-74,0A74,35 0 0 0 -70.1,11.2L-70.1,28.2A74,35 0 0 1 -74,17Z"]}}}},
{"data":{"values":[{"parte":"lateral"}]},"mark":{"type":"point","filled":true,"opacity":1,"size":4,"strokeWidth":0,"xOffset":107.5,"yOffset":-99,"shape":"M-74,0A74,35 0 0 0 74,0L74,17A74,35 0 0 1 -74,17Z","fill":{"gradient":"linear","x1":0,"y1":0,"x2":1,"y2":0,"stops":[{"offset":0,"color":"rgba(0,0,0,0.1)"},{"offset":1,"color":"rgba(0,0,0,0.72)"}]}},"encoding":{}},
{"data":{"values":[{"modelo":"Modelo 1","pct":34},{"modelo":"Modelo 2","pct":33},{"modelo":"Modelo 3","pct":33}]},"mark":{"type":"point","filled":true,"opacity":1,"size":4,"strokeWidth":0,"xOffset":107.5,"yOffset":-99},"encoding":{"color":{"field":"modelo","type":"nominal","legend":null},"shape":{"field":"modelo","type":"nominal","legend":null,"scale":{"range":["M0,-7L0,-35A74,35 0 0 1 68.3,13.5Z","M0,-7L68.3,13.5A74,35 0 0 1 -70.1,11.2Z","M0,-7L-70.1,11.2A74,35 0 0 1 0,-35Z"]}}}},
{"data":{"values":[{"r":"Modelo 1\n34%"}]},"mark":{"type":"text","xOffset":137.5,"yOffset":-116},"encoding":{"text":{"field":"r"}}},
{"data":{"values":[{"r":"Modelo 2\n33%"}]},"mark":{"type":"text","xOffset":106.5,"yOffset":-75},"encoding":{"text":{"field":"r"}}},
{"data":{"values":[{"r":"Modelo 3\n33%"}]},"mark":{"type":"text","xOffset":77.5,"yOffset":-116},"encoding":{"text":{"field":"r"}}},
{"data":{"values":[{"t":"Licenciatura"}]},"mark":{"type":"text","fontSize":14,"fontWeight":"bold","align":"left","baseline":"alphabetic","color":"#1a1a1a","xOffset":-164,"yOffset":-88.5},"encoding":{"text":{"field":"t"}}}
]}
]},
{"spacing":43,"bounds":"flush","resolve":{"scale":{"color":"independent"}},"hconcat":[
{"width":347,"height":144,"resolve":{"scale":{"shape":"independent"}},"layer":[
{"data":{"values":[{"componente":"Estratégias","modelo":"Modelo 1","valor":1.6},{"componente":"Estratégias","modelo":"Modelo 2","valor":1.4},{"componente":"Estratégias","modelo":"Modelo 3","valor":1.3},{"componente":"Objetivos","modelo":"Modelo 1","valor":1.3},{"componente":"Objetivos","modelo":"Modelo 2","valor":1.4},{"componente":"Objetivos","modelo":"Modelo 3","valor":1.6},{"componente":"Conceitos","modelo":"Modelo 1","valor":0.85},{"componente":"Conceitos","modelo":"Modelo 2","valor":0.85},{"componente":"Conceitos","modelo":"Modelo 3","valor":0.5},{"componente":"Momento","modelo":"Modelo 1","valor":1.3},{"componente":"Momento","modelo":"Modelo 2","valor":1},{"componente":"Momento","modelo":"Modelo 3","valor":1.1},{"componente":"Dificuldades","modelo":"Modelo 1","valor":1.3},{"componente":"Dificuldades","modelo":"Modelo 2","valor":1.3},{"componente":"Dificuldades","modelo":"Modelo 3","valor":1.62}]},"mark":"bar","encoding":{"x":{"field":"componente","type":"nominal","sort":null,"title":"Componente"},"xOffset":{"field":"modelo"},"y":{"field":"valor","type":"quantitative","title":null,"scale":{"domain":[0,2]},"axis":{"tickCount":10,"labelExpr":"replace(format(datum.value,'~g'),'.',',')"}},"color":{"field":"modelo","type":"nominal","legend":null}}},
{"data":{"values":[{"modelo":"Modelo 1","pct":35},{"modelo":"Modelo 2","pct":32},{"modelo":"Modelo 3","pct":33}]},"mark":{"type":"point","filled":true,"opacity":1,"size":4,"strokeWidth":0,"xOffset":128,"yOffset":-134},"encoding":{"color":{"field":"modelo","type":"nominal","legend":null},"shape":{"field":"modelo","type":"nominal","legend":null,"scale":{"range":["M66.1,15.7A74,35 0 0 0 74,0L74,17A74,35 0 0 1 66.1,32.7Z","M-70.1,11.2A74,35 0 0 0 66.1,15.7L66.1,32.7A74,35 0 0 1 -70.1,28.2Z","M-74,0A74,35 0 0 0 -70.1,11.2L-70.1,28.2A74,35 0 0 1 -74,17Z"]}}}},
{"data":{"values":[{"parte":"lateral"}]},"mark":{"type":"point","filled":true,"opacity":1,"size":4,"strokeWidth":0,"xOffset":128,"yOffset":-134,"shape":"M-74,0A74,35 0 0 0 74,0L74,17A74,35 0 0 1 -74,17Z","fill":{"gradient":"linear","x1":0,"y1":0,"x2":1,"y2":0,"stops":[{"offset":0,"color":"rgba(0,0,0,0.1)"},{"offset":1,"color":"rgba(0,0,0,0.72)"}]}},"encoding":{}},
{"data":{"values":[{"modelo":"Modelo 1","pct":35},{"modelo":"Modelo 2","pct":32},{"modelo":"Modelo 3","pct":33}]},"mark":{"type":"point","filled":true,"opacity":1,"size":4,"strokeWidth":0,"xOffset":128,"yOffset":-134},"encoding":{"color":{"field":"modelo","type":"nominal","legend":null},"shape":{"field":"modelo","type":"nominal","legend":null,"scale":{"range":["M0,-7L0,-35A74,35 0 0 1 66.1,15.7Z","M0,-7L66.1,15.7A74,35 0 0 1 -70.1,11.2Z","M0,-7L-70.1,11.2A74,35 0 0 1 0,-35Z"]}}}},
{"data":{"values":[{"r":"Modelo 1\n35%"}]},"mark":{"type":"text","xOffset":159,"yOffset":-150},"encoding":{"text":{"field":"r"}}},
{"data":{"values":[{"r":"Modelo 2\n32%"}]},"mark":{"type":"text","xOffset":125,"yOffset":-109},"encoding":{"text":{"field":"r"}}},
{"data":{"values":[{"r":"Modelo 3\n33%"}]},"mark":{"type":"text","xOffset":98,"yOffset":-150},"encoding":{"text":{"field":"r"}}},
{"data":{"values":[{"t":"Bacharelado"}]},"mark":{"type":"text","fontSize":14,"fontWeight":"bold","align":"left","baseline":"alphabetic","color":"#1a1a1a","xOffset":-185,"yOffset":-87},"encoding":{"text":{"field":"t"}}}
]},
{"width":347,"height":144,"resolve":{"scale":{"shape":"independent"}},"layer":[
{"data":{"values":[{"componente":"Estratégias","modelo":"Modelo 1","valor":1.65},{"componente":"Estratégias","modelo":"Modelo 2","valor":1},{"componente":"Estratégias","modelo":"Modelo 3","valor":1.2},{"componente":"Objetivos","modelo":"Modelo 1","valor":1.7},{"componente":"Objetivos","modelo":"Modelo 2","valor":1.9},{"componente":"Objetivos","modelo":"Modelo 3","valor":1.5},{"componente":"Conceitos","modelo":"Modelo 1","valor":1.3},{"componente":"Conceitos","modelo":"Modelo 2","valor":1.3},{"componente":"Conceitos","modelo":"Modelo 3","valor":0.9},{"componente":"Momento","modelo":"Modelo 1","valor":1.3},{"componente":"Momento","modelo":"Modelo 2","valor":1},{"componente":"Momento","modelo":"Modelo 3","valor":1.1},{"componente":"Dificuldades","modelo":"Modelo 1","valor":1.3},{"componente":"Dificuldades","modelo":"Modelo 2","valor":1.3},{"componente":"Dificuldades","modelo":"Modelo 3","valor":1.62}]},"mark":"bar","encoding":{"x":{"field":"componente","type":"nominal","sort":null,"title":"Componente"},"xOffset":{"field":"modelo"},"y":{"field":"valor","type":"quantitative","title":null,"scale":{"domain":[0,2]},"axis":{"tickCount":10,"labelExpr":"replace(format(datum.value,'~g'),'.',',')"}},"color":{"field":"modelo","type":"nominal","legend":null}}},
{"data":{"values":[{"modelo":"Modelo 1","pct":36},{"modelo":"Modelo 2","pct":32},{"modelo":"Modelo 3","pct":32}]},"mark":{"type":"point","filled":true,"opacity":1,"size":4,"strokeWidth":0,"xOffset":107.5,"yOffset":-134},"encoding":{"color":{"field":"modelo","type":"nominal","legend":null},"shape":{"field":"modelo","type":"nominal","legend":null,"scale":{"range":["M63.6,17.9A74,35 0 0 0 74,0L74,17A74,35 0 0 1 63.6,34.9Z","M-71.6,8.9A74,35 0 0 0 63.6,17.9L63.6,34.9A74,35 0 0 1 -71.6,25.9Z","M-74,0A74,35 0 0 0 -71.6,8.9L-71.6,25.9A74,35 0 0 1 -74,17Z"]}}}},
{"data":{"values":[{"parte":"lateral"}]},"mark":{"type":"point","filled":true,"opacity":1,"size":4,"strokeWidth":0,"xOffset":107.5,"yOffset":-134,"shape":"M-74,0A74,35 0 0 0 74,0L74,17A74,35 0 0 1 -74,17Z","fill":{"gradient":"linear","x1":0,"y1":0,"x2":1,"y2":0,"stops":[{"offset":0,"color":"rgba(0,0,0,0.1)"},{"offset":1,"color":"rgba(0,0,0,0.72)"}]}},"encoding":{}},
{"data":{"values":[{"modelo":"Modelo 1","pct":36},{"modelo":"Modelo 2","pct":32},{"modelo":"Modelo 3","pct":32}]},"mark":{"type":"point","filled":true,"opacity":1,"size":4,"strokeWidth":0,"xOffset":107.5,"yOffset":-134},"encoding":{"color":{"field":"modelo","type":"nominal","legend":null},"shape":{"field":"modelo","type":"nominal","legend":null,"scale":{"range":["M0,-7L0,-35A74,35 0 0 1 63.6,17.9Z","M0,-7L63.6,17.9A74,35 0 0 1 -71.6,8.9Z","M0,-7L-71.6,8.9A74,35 0 0 1 0,-35Z"]}}}},
{"data":{"values":[{"r":"Modelo 1\n36%"}]},"mark":{"type":"text","xOffset":140.5,"yOffset":-149},"encoding":{"text":{"field":"r"}}},
{"data":{"values":[{"r":"Modelo 2\n32%"}]},"mark":{"type":"text","xOffset":97.5,"yOffset":-110},"encoding":{"text":{"field":"r"}}},
{"data":{"values":[{"r":"Modelo 3\n32%"}]},"mark":{"type":"text","xOffset":79.5,"yOffset":-151},"encoding":{"text":{"field":"r"}}},
{"data":{"values":[{"t":"Química Industrial"}]},"mark":{"type":"text","fontSize":14,"fontWeight":"bold","align":"left","baseline":"alphabetic","color":"#1a1a1a","xOffset":-164,"yOffset":-87},"encoding":{"text":{"field":"t"}}}
]}
]}
]}
]}
